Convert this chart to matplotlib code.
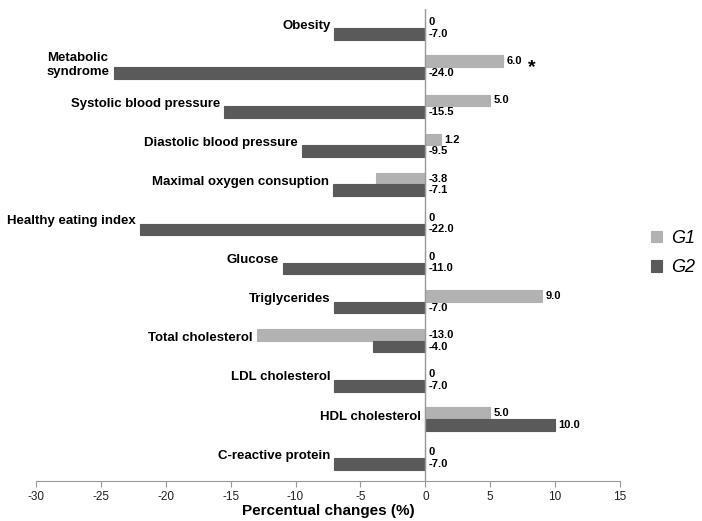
import numpy as np
import matplotlib
matplotlib.use('Agg')
import matplotlib.pyplot as plt

plt.rcParams['font.family'] = ['Liberation Sans', 'DejaVu Sans']
plt.rcParams['axes.unicode_minus'] = False

categories = ['Obesity', 'Metabolic\nsyndrome', 'Systolic blood pressure',
              'Diastolic blood pressure', 'Maximal oxygen consuption',
              'Healthy eating index', 'Glucose', 'Triglycerides',
              'Total cholesterol', 'LDL cholesterol', 'HDL cholesterol',
              'C-reactive protein']
g1 = [0, 6.0, 5.0, 1.2, -3.8, 0, 0, 9.0, -13.0, 0, 5.0, 0]
g2 = [-7.0, -24.0, -15.5, -9.5, -7.1, -22.0, -11.0, -7.0, -4.0, -7.0, 10.0, -7.0]
g1_text = ['0', '6.0', '5.0', '1.2', '-3.8', '0', '0', '9.0', '-13.0', '0', '5.0', '0']
g2_text = ['-7.0', '-24.0', '-15.5', '-9.5', '-7.1', '-22.0', '-11.0', '-7.0',
           '-4.0', '-7.0', '10.0', '-7.0']

c1 = '#b2b2b2'
c2 = '#5a5a5a'

fig = plt.figure(figsize=(7.02, 5.21), dpi=100)
ax = fig.add_axes([36/702, 1 - 481/521, (620 - 36)/702, (481 - 9)/521])

y = np.arange(len(categories))
h = 0.3
ax.barh(y - h/2, g1, height=h, color=c1, edgecolor=c1, linewidth=0.8, label='G1')
ax.barh(y + h/2, g2, height=h, color=c2, edgecolor=c2, linewidth=0.8, label='G2')

for i in range(len(categories)):
    ax.text(max(g1[i], 0) + 0.25, y[i] - h/2, g1_text[i], va='center', ha='left',
            fontsize=8, fontweight='bold')
    ax.text(max(g2[i], 0) + 0.25, y[i] + h/2, g2_text[i], va='center', ha='left',
            fontsize=8, fontweight='bold')
    ax.text(min(g1[i], g2[i], 0) - 0.3, y[i] - 0.06, categories[i], va='center',
            ha='right', multialignment='left', fontsize=9.5, fontweight='bold')

ax.text(8.2, 1.0, '*', fontsize=14, fontweight='bold', ha='center', va='center')

ax.set_xlim(-30, 15)
ax.set_ylim(11.59, -0.49)
ax.set_xticks(np.arange(-30, 16, 5))
ax.tick_params(axis='x', colors='#999999', labelcolor='#222222', labelsize=8.5,
               length=4, direction='out', pad=3)
ax.set_yticks([])
for s in ['top', 'right', 'left']:
    ax.spines[s].set_visible(False)
ax.spines['bottom'].set_color('#999999')
ax.axvline(0, color='#999999', linewidth=1)
ax.set_xlabel('Percentual changes (%)', fontsize=11, fontweight='bold', labelpad=1)

fig.legend(loc='center left', bbox_to_anchor=(635/702, 1 - 253/521), frameon=False,
           handlelength=0.6, handleheight=0.6, handletextpad=0.5, labelspacing=0.7,
           prop={'style': 'italic', 'size': 13})

fig.savefig('out.png', dpi=100)
